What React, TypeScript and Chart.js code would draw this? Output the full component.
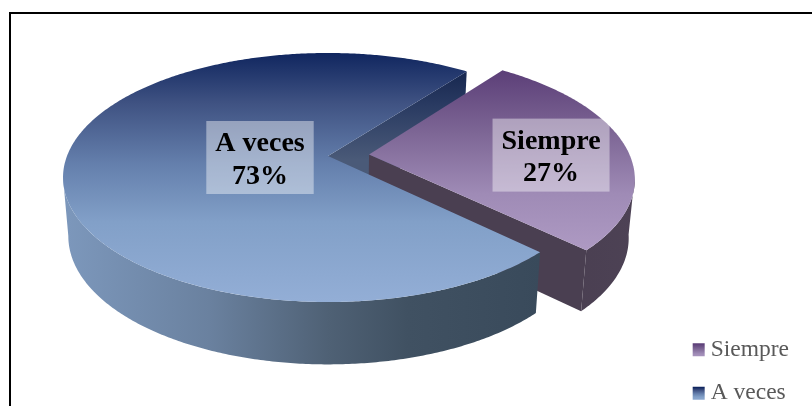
import React, { useEffect, useRef } from "react";
import { Chart, registerables } from "chart.js";

Chart.register(...registerables);

const categories = ["Siempre", "A veces"];
const values = [27, 73];
const percentLabels = ["27%", "73%"];
const explode = [0.158, 0];

const SERIF = "'Liberation Serif', 'Times New Roman', serif";
const CX = 328, CY = 156, A = 261, B = 120.8, K = 0.1727;
const SX = 0.98, SY = 1.03, DY = 58;
const LABEL_SHIFT = [[182, 0.5], [-68, 1.5]];

function project(X: number, Y: number) {
  const w = 1 - K * Y;
  return { u: (A * X) / w, v: (B * Y) / w };
}
const topPt = (X: number, Y: number) => {
  const p = project(X, Y);
  return [CX + p.u, CY + p.v];
};
const botPt = (X: number, Y: number) => {
  const p = project(X, Y);
  return [CX + SX * p.u, CY + DY + SY * p.v];
};

function arcPoints(a0: number, a1: number, ox: number, oy: number, f: (x: number, y: number) => number[]) {
  const pts: number[][] = [];
  const n = Math.max(2, Math.ceil(Math.abs(a1 - a0) / 0.01));
  for (let i = 0; i <= n; i++) {
    const t = a0 + ((a1 - a0) * i) / n;
    pts.push(f(ox + Math.cos(t), oy + Math.sin(t)));
  }
  return pts;
}
function fillPoly(ctx: CanvasRenderingContext2D, pts: number[][], fill: string | CanvasGradient) {
  ctx.beginPath();
  pts.forEach((p, i) => (i ? ctx.lineTo(p[0], p[1]) : ctx.moveTo(p[0], p[1])));
  ctx.closePath();
  ctx.fillStyle = fill;
  ctx.fill();
}
function vGrad(ctx: CanvasRenderingContext2D, y0: number, y1: number, stops: [number, string][]) {
  const g = ctx.createLinearGradient(0, y0, 0, y1);
  stops.forEach(([o, c]) => g.addColorStop(o, c));
  return g;
}
function hGrad(ctx: CanvasRenderingContext2D, x0: number, x1: number, stops: [number, string][]) {
  const g = ctx.createLinearGradient(x0, 0, x1, 0);
  stops.forEach(([o, c]) => g.addColorStop(o, c));
  return g;
}

const blueStops: [number, string][] = [[0, "#10265f"], [0.2, "#3f5282"], [0.45, "#6580ad"], [0.68, "#82a0c8"], [1, "#93aed6"]];
const purpleStops: [number, string][] = [[0, "#5c3f78"], [0.35, "#7d6695"], [0.7, "#9f8bb6"], [1, "#ad99c2"]];

const pie3d = {
  id: "pie3d",
  beforeDraw(chart: any) {
    const ctx = chart.ctx;
    const boxes = chart.legend?.legendHitBoxes || [];
    (chart.legend?.legendItems || []).forEach((it: any, i: number) => {
      const b = boxes[i];
      if (!b) return;
      const stops = i === 0 ? purpleStops : blueStops;
      const g = vGrad(ctx, b.top + 6, b.top + 20, stops);
      it.fillStyle = g;
      it.strokeStyle = g;
    });
  },
  beforeDatasetDraw(chart: any) {
    const ctx: CanvasRenderingContext2D = chart.ctx;
    const arcs = chart.getDatasetMeta(0).data;
    const off = (i: number) => {
      const mid = (arcs[i].startAngle + arcs[i].endAngle) / 2;
      return [explode[i] * Math.cos(mid), explode[i] * Math.sin(mid)];
    };
    ctx.save();
    const drawWall = (i: number, angle: number, fill: string | CanvasGradient) => {
      const [ox, oy] = off(i);
      const e = [ox + Math.cos(angle), oy + Math.sin(angle)];
      fillPoly(ctx, [topPt(ox, oy), topPt(e[0], e[1]), botPt(e[0], e[1]), botPt(ox, oy)], fill);
    };
    const drawSide = (i: number, fill: string | CanvasGradient) => {
      const [ox, oy] = off(i);
      // only the part of the rim that faces the viewer, up to the silhouette
      const a0 = Math.max(arcs[i].startAngle, K);
      const a1 = Math.min(arcs[i].endAngle, Math.PI - K);
      const t = arcPoints(a0, a1, ox, oy, topPt);
      const b = arcPoints(a0, a1, ox, oy, botPt).reverse();
      fillPoly(ctx, t.concat(b), fill);
    };
    const drawTop = (i: number, fill: string | CanvasGradient) => {
      const [ox, oy] = off(i);
      fillPoly(ctx, [topPt(ox, oy), ...arcPoints(arcs[i].startAngle, arcs[i].endAngle, ox, oy, topPt)], fill);
    };
    // far wall of the large slice
    drawWall(1, arcs[1].endAngle, vGrad(ctx, 70, 160, [[0, "#16264f"], [0.4, "#2a3b62"], [1, "#4a5a78"]]));
    // separated slice
    drawWall(0, arcs[0].endAngle, "#4a3f51");
    drawSide(0, hGrad(ctx, 540, 640, [[0, "#493e50"], [1, "#4d4255"]]));
    drawTop(0, vGrad(ctx, 71, 247, purpleStops));
    // large slice
    drawSide(1, hGrad(ctx, 68, 540, [[0, "#7c97bb"], [0.3, "#6a819f"], [0.55, "#4f6175"], [0.72, "#405162"], [1, "#394a5b"]]));
    drawTop(1, vGrad(ctx, 53, 302, blueStops));

    // data labels
    ctx.textAlign = "center";
    ctx.textBaseline = "alphabetic";
    ctx.font = `bold 28px ${SERIF}`;
    arcs.forEach((arc: any, i: number) => {
      const [ox, oy] = off(i);
      const [ax, ay] = topPt(ox, oy);
      const x = ax + LABEL_SHIFT[i][0];
      const y = ay + LABEL_SHIFT[i][1];
      const w = Math.max(ctx.measureText(categories[i]).width, ctx.measureText(percentLabels[i]).width) + 18;
      ctx.fillStyle = "rgba(255,255,255,0.42)";
      ctx.fillRect(x - w / 2, y - 36.5, w, 73);
      ctx.fillStyle = "#000";
      ctx.fillText(categories[i], x, y - 6.5);
      ctx.fillText(percentLabels[i], x, y + 26);
    });
    ctx.restore();
    return false;
  },
};

export default function App() {
  const ref = useRef<HTMLCanvasElement>(null);
  useEffect(() => {
    const chart = new Chart(ref.current!, {
      type: "pie",
      data: {
        labels: categories,
        datasets: [{ data: values, backgroundColor: ["#7d6695", "#5f7aa8"], borderWidth: 0 }],
      },
      options: {
        animation: false,
        responsive: false,
        rotation: 37.2,
        layout: { padding: { right: 13 } },
        plugins: {
          tooltip: { enabled: false },
          legend: {
            position: "right",
            align: "end",
            labels: {
              boxWidth: 0.5,
              boxHeight: 1.5,
              padding: 20,
              color: "#595959",
              font: { family: SERIF, size: 23.5 },
              generateLabels(c: any) {
                const items = Chart.overrides.pie.plugins.legend.labels.generateLabels(c);
                return items.map((it: any) => ({ ...it, lineWidth: 11.5, lineJoin: "miter", lineCap: "butt" }));
              },
            },
          },
        },
      } as any,
      plugins: [pie3d as any],
    });
    return () => chart.destroy();
  }, []);
  return (
    <div style={{ position: "fixed", left: 0, top: 0, width: 812, height: 406, overflow: "hidden", background: "#fff" }}>
      <div style={{ position: "absolute", left: 9, top: 12, width: 900, height: 500, border: "2px solid #000", boxSizing: "border-box" }} />
      <canvas ref={ref} width={812} height={425} style={{ position: "absolute", left: 0, top: 0, display: "block" }} />
    </div>
  );
}
